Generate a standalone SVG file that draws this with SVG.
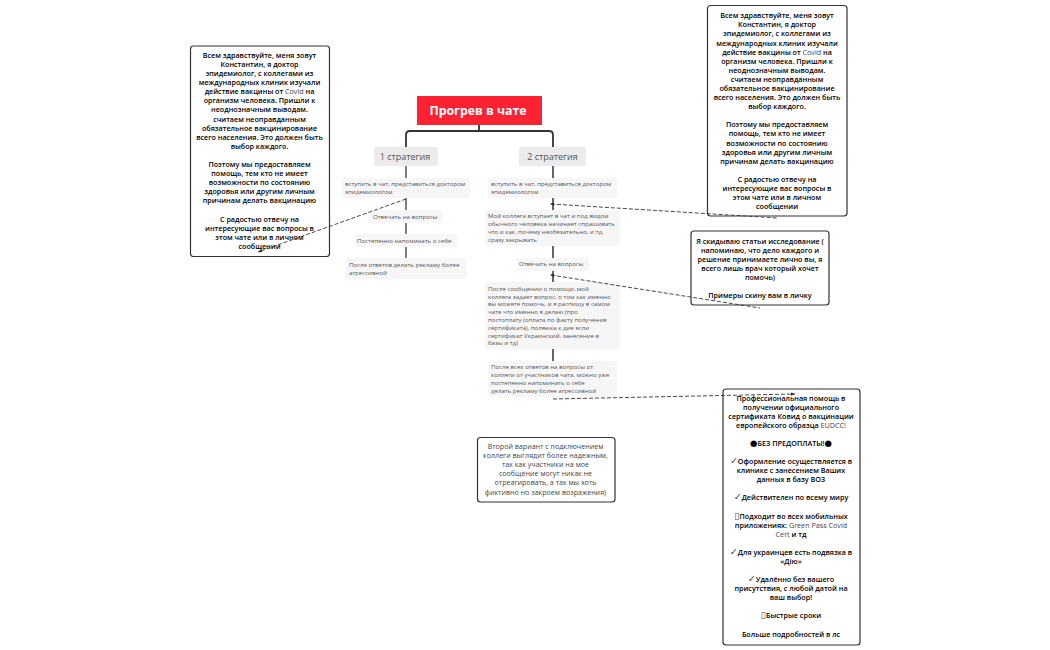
<svg xmlns="http://www.w3.org/2000/svg" width="1050" height="650" viewBox="0 0 1050 650">
<style>
text{font-family:"Open Sans","Noto Sans","Liberation Sans",sans-serif}
.note rect{fill:#fff;stroke:#333;stroke-width:1.2}
.note text{font-size:7.2px;font-weight:600;fill:#000;text-anchor:middle}
.note tspan.n{font-weight:400;fill:#444}
.note tspan.g{font-family:"DejaVu Sans",sans-serif;font-weight:400;font-size:9.5px;fill:#555}
.note tspan.d{font-family:"DejaVu Sans",sans-serif;font-weight:400;font-size:8.5px}
.sub rect{fill:#f6f6f6}
.sub text{font-size:6.1px;fill:#555}
.br rect{fill:#ebebeb}
.br text{font-size:9px;fill:#555;text-anchor:middle}
.solid{stroke:#555;stroke-width:1.5;fill:none}
.dash{stroke:#333;stroke-width:.9;fill:none;stroke-dasharray:4 2}
</style>
<defs>
<marker id="ah" markerWidth="5" markerHeight="5" refX="4" refY="2.500" orient="auto" markerUnits="userSpaceOnUse"><path d="M0 .8L4 2.500L0 4.200z" fill="#333"/></marker>
<marker id="as" markerWidth="5" markerHeight="5" refX="1" refY="2.500" orient="auto" markerUnits="userSpaceOnUse"><path d="M4 .8L0 2.500L4 4.200z" fill="#333"/></marker>
</defs>

<g id="root"><rect x="417" y="96" width="125" height="29" fill="#fb2232"/><text x="478" y="115" font-size="12.300" font-weight="700" fill="#fff" text-anchor="middle">Прогрев в чате</text></g>

<g id="s1" class="br"><rect x="374" y="147" width="64" height="19" rx="2"/><text x="405" y="160">1 стратегия</text></g>
<g id="s2" class="br"><rect x="519" y="147" width="67" height="19" rx="2"/><text x="552.500" y="160">2 стратегия</text></g>

<g id="a1" class="sub"><rect x="342" y="178" width="128" height="20" rx="2"/><text x="345" y="186">вступить в чат, представиться доктором</text><text x="345" y="194">эпидемиологом</text></g>
<g id="a2" class="sub"><rect x="370" y="210" width="72" height="13" rx="2"/><text x="373" y="218.500">Отвечать на вопросы</text></g>
<g id="a3" class="sub"><rect x="355" y="234" width="102" height="13" rx="2"/><text x="357" y="242.500">Постепенно напоминать о себе</text></g>
<g id="a4" class="sub"><rect x="346" y="258" width="120" height="21" rx="2"/><text x="349" y="267">После ответов делать рекламу более</text><text x="349" y="275">агрессивной</text></g>

<g id="b1" class="sub"><rect x="488" y="178" width="129" height="20" rx="2"/><text x="491" y="186">вступить в чат, представиться доктором</text><text x="491" y="194">эпидемиологом</text></g>
<g id="b2" class="sub"><rect x="485" y="210" width="135" height="36" rx="2"/><text x="488" y="218">Мой коллега вступает в чат и под видом</text><text x="488" y="226">обычного человека начинает спрашивать</text><text x="488" y="234">что и как, почему необязательно, и тд,</text><text x="488" y="242">сразу закрывать</text></g>
<g id="b3" class="sub"><rect x="517" y="258" width="72" height="13" rx="2"/><text x="519" y="266">Отвечать на вопросы</text></g>
<g id="b4" class="sub"><rect x="485" y="282" width="135" height="67" rx="2"/><text x="488" y="290.500">После сообщении о помощи, мой</text><text x="488" y="298.500">коллега  задает вопрос, о том как именно</text><text x="488" y="306">вы можете помочь, и я распишу в самом</text><text x="488" y="314">чате что именно я делаю (про</text><text x="488" y="322">постоплату (оплата по факту получения</text><text x="488" y="330">сертификата), поляюка к дие если</text><text x="488" y="337.500">сертификат Украинский, занесение в</text><text x="488" y="345">базы и тд)</text></g>
<g id="b5" class="sub"><rect x="488" y="361" width="129" height="36" rx="2"/><text x="491" y="369">После всех ответов на вопросы от</text><text x="491" y="377">коллеги от участников чата, можно уже</text><text x="491" y="385">постепенно напоминать о себе</text><text x="491" y="393">делать рекламу более агрессивной</text></g>

<g id="note-left" class="note"><rect x="190.500" y="46" width="139" height="210.500" rx="3"/>
<text x="259.500" y="57.500">Всем здравствуйте, меня зовут</text><text x="259.500" y="66.500">Константин, я доктор</text><text x="259.500" y="75.800">эпидемиолог, с коллегами из</text><text x="259.500" y="84.800">международных клиник изучали</text><text x="259.500" y="94">действие вакцины от <tspan class="n">Covid</tspan> на</text><text x="259.500" y="103">организм человека. Пришли к</text><text x="259.500" y="112">неоднозначным выводам.</text><text x="259.500" y="121.500">считаем неоправданным</text><text x="259.500" y="130.500">обязательное вакцинирование</text><text x="259.500" y="139.500">всего населения. Это должен быть</text><text x="259.500" y="148.500">выбор каждого.</text>
<text x="259.500" y="166.500">Поэтому мы предоставляем</text><text x="259.500" y="175.500">помощь, тем кто не имеет</text><text x="259.500" y="185">возможности по состоянию</text><text x="259.500" y="194">здоровья или другим  личным</text><text x="259.500" y="203">причинам делать вакцинацию</text>
<text x="259.500" y="221.500">С радостью отвечу на</text><text x="259.500" y="230.500">интересующие вас вопросы в</text><text x="259.500" y="239.500">этом чате или в личном</text><text x="259.500" y="248.500">сообщении</text></g>

<g id="note-top" class="note"><rect x="707.500" y="5.500" width="139.500" height="210.500" rx="3"/>
<text x="777" y="18">Всем здравствуйте, меня зовут</text><text x="777" y="27">Константин, я доктор</text><text x="777" y="36">эпидемиолог, с коллегами из</text><text x="777" y="45.500">международных клиник изучали</text><text x="777" y="54.500">действие вакцины от <tspan class="n">Covid</tspan> на</text><text x="777" y="63.500">организм человека. Пришли к</text><text x="777" y="72.500">неоднозначным выводам.</text><text x="777" y="81.500">считаем неоправданным</text><text x="777" y="90.500">обязательное вакцинирование</text><text x="777" y="100">всего населения. Это должен быть</text><text x="777" y="109">выбор каждого.</text>
<text x="777" y="127">Поэтому мы предоставляем</text><text x="777" y="136">помощь, тем кто не имеет</text><text x="777" y="145.500">возможности по состоянию</text><text x="777" y="154.500">здоровья или другим  личным</text><text x="777" y="163.500">причинам делать вакцинацию</text>
<text x="777" y="181.500">С радостью отвечу на</text><text x="777" y="191">интересующие вас вопросы в</text><text x="777" y="200">этом чате или в личном</text><text x="777" y="209">сообщении</text></g>

<g id="note-mid" class="note"><rect x="691" y="231" width="138" height="74" rx="3"/>
<text x="760" y="243.500">Я скидываю статьи исследование (</text><text x="760" y="252.500">напоминаю, что дело каждого и</text><text x="760" y="261.500">решение принимаете лично вы, я</text><text x="760" y="270.500">всего лишь врач который хочет</text><text x="760" y="279.500">помочь)</text><text x="760" y="298">Примеры скину вам в личку</text></g>

<g id="note-bottom" class="note"><rect x="723" y="389" width="137" height="256" rx="3"/>
<text x="791" y="400.500">Профессиональная помощь в</text><text x="791" y="409.600">получении официального</text><text x="791" y="418.700">сертификата Ковид о вакцинации</text><text x="791" y="427.700">европейского образца <tspan class="n">EUDCC!</tspan></text>
<text x="791" y="445.900"><tspan class="d">●</tspan>БЕЗ ПРЕДОПЛАТЫ!<tspan class="d">●</tspan></text>
<text x="791" y="464.100"><tspan class="g">✓</tspan>Оформление осуществляется в</text><text x="791" y="473.100">клинике с занесением Ваших</text><text x="791" y="482.200">данных в базу ВОЗ</text>
<text x="791" y="500.400"><tspan class="g">✓</tspan>Действителен по всему миру</text>
<text x="791" y="518.500"><tspan class="g">▯</tspan>Подходит во всех мобильных</text><text x="791" y="527.600">приложениях: <tspan class="n">Green Pass Covid</tspan></text><text x="791" y="536.700"><tspan class="n">Cert</tspan> и тд</text>
<text x="791" y="554.900"><tspan class="g">✓</tspan>Для украинцев есть подвязка в</text><text x="791" y="564">«Дію»</text>
<text x="791" y="582.100"><tspan class="g">✓</tspan>Удалённо без вашего</text><text x="791" y="591.200">присутствия, с любой датой на</text><text x="791" y="600.300">ваш выбор!</text>
<text x="791" y="618.400"><tspan class="g">▯</tspan>Быстрые сроки</text>
<text x="791" y="636.600">Больше подробностей в лс</text></g>

<g id="note-second"><rect x="477.500" y="437.500" width="137.500" height="64.500" rx="3" fill="#fff" stroke="#333" stroke-width="1.200"/>
<g font-size="7.100" fill="#444" text-anchor="middle"><text x="545.500" y="449">Второй вариант с подключением</text><text x="545.500" y="458">коллеги выглядит более надежным,</text><text x="545.500" y="467">так как участники на мое</text><text x="545.500" y="476">сообщение могут никак не</text><text x="545.500" y="485">отреагировать, а так мы хоть</text><text x="545.500" y="494.500">фиктивно но закроем возражения)</text></g></g>

<g id="connectors">
<path d="M479 125V131M406 147V135Q406 131 410 131H549Q553 131 553 135V147" fill="none" stroke="#333" stroke-width="1.800"/>
<path class="solid" d="M406 166V178M406 198V210M406 223V234M406 247V258"/>
<path class="solid" style="stroke:#333" d="M553 166V178M553 198V210M553 246V258M553 271V282M553 349V361"/>
<path class="dash" d="M406 199L258 252" marker-end="url(#ah)"/>
<path class="dash" d="M551 204L778 218" marker-start="url(#as)"/>
<path class="dash" d="M551 275L760 308" marker-start="url(#as)"/>
<path class="dash" d="M553 399L795 394" marker-end="url(#ah)"/>
</g>
</svg>
